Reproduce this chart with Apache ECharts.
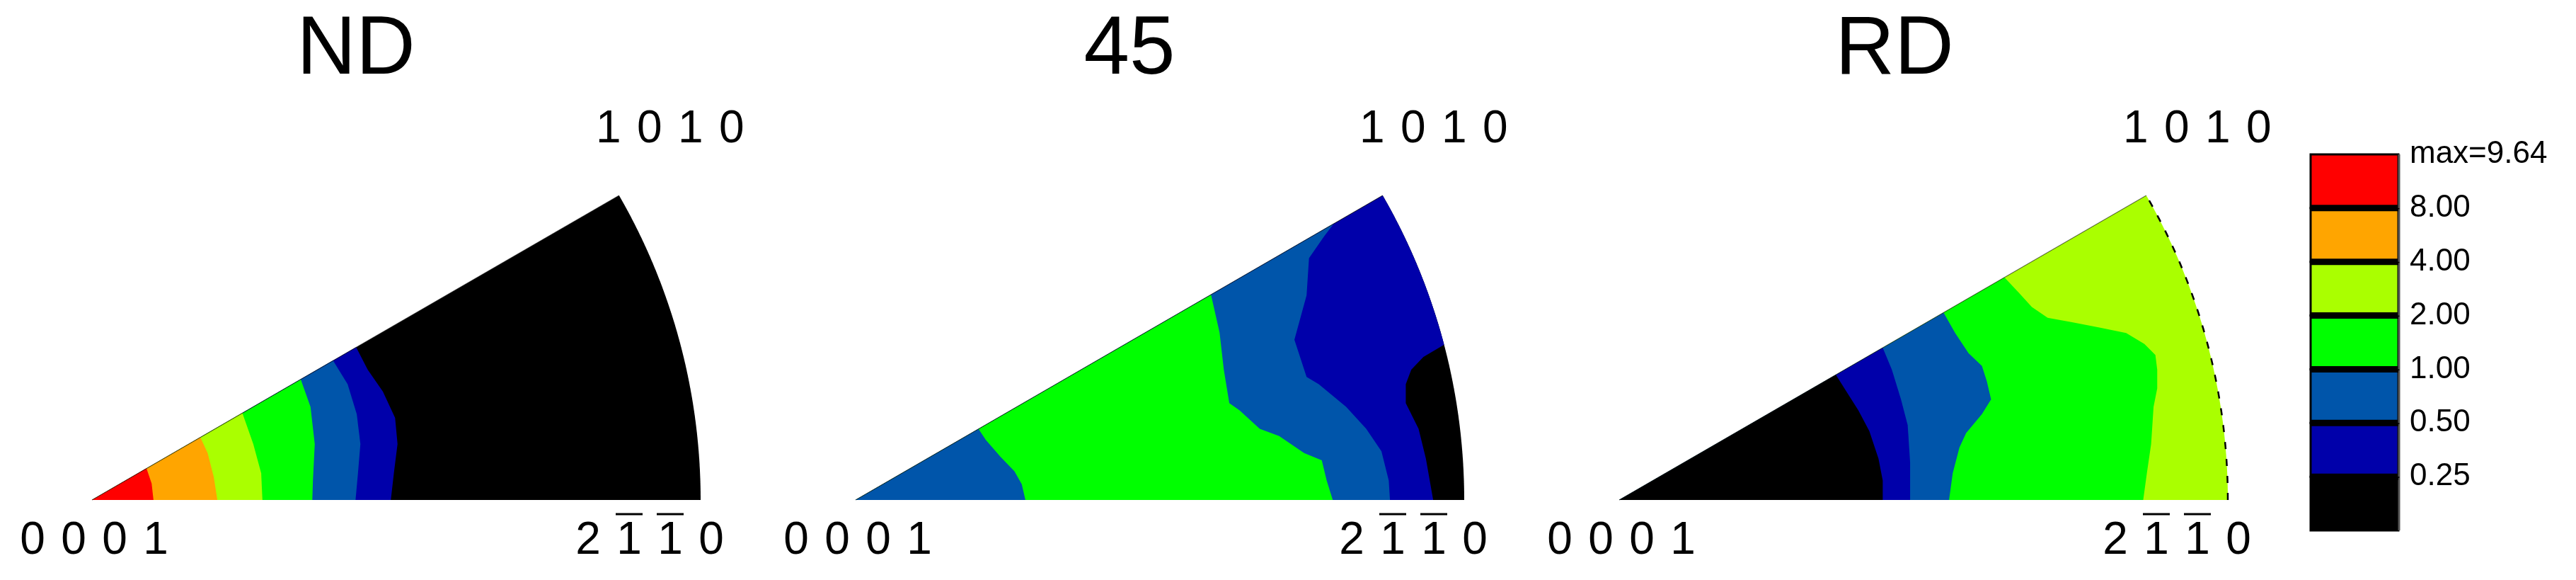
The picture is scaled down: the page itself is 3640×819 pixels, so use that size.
<!DOCTYPE html>
<html>
<head>
<meta charset="utf-8">
<script src="https://cdn.jsdelivr.net/npm/echarts@6/dist/echarts.min.js"></script>
<style>
html, body { margin: 0; padding: 0; background: #fff; }
#chart { width: 3640px; height: 819px; }
</style>
</head>
<body>
<div id="chart"></div>
<script>
// inverse pole figures (ND / 45 / RD), contour levels in mrd
var panelTitles = ['ND', '45', 'RD'];
var levelLabels = ['', '0.25', '0.50', '1.00', '2.00', '4.00', '8.00', 'max=9.64'];
var levelColors = ['#000000', '#0000aa', '#0055aa', '#00ff00', '#aaff00', '#ffa500', '#ff0000'];
var poleLabels = ['0001', '2110', '1010'];
var poleBars = [[0, 0, 0, 0], [0, 1, 1, 0], [0, 0, 0, 0]];
var poleDirs = [[0, 0], [1, 0], [0.866, 0.5]];

// contour layers: [level, boundary from the 2-1-10 edge to the 10-10 edge or the arc]
// x = r cos(a), y = r sin(a) in the unit sector
var ndBase = 0;
var ndLayers = [
  [1, [[0.491, 0], [0.496, 0.044], [0.502, 0.092], [0.498, 0.135], [0.478, 0.178], [0.453, 0.214], [0.434, 0.251]]],
  [2, [[0.433, 0], [0.437, 0.044], [0.441, 0.092], [0.435, 0.141], [0.420, 0.190], [0.396, 0.229]]],
  [3, [[0.362, 0], [0.363, 0.032], [0.366, 0.092], [0.359, 0.153], [0.343, 0.198]]],
  [4, [[0.280, 0], [0.278, 0.044], [0.265, 0.092], [0.247, 0.143]]],
  [5, [[0.206, 0], [0.200, 0.038], [0.190, 0.077], [0.178, 0.103]]],
  [6, [[0.101, 0], [0.098, 0.027], [0.0895, 0.052]]]
];

var d45Base = 0;
var d45Layers = [
  [1, [[0.949, 0], [0.937, 0.068], [0.925, 0.117], [0.904, 0.159], [0.904, 0.190], [0.913, 0.214], [0.933, 0.235], [0.967, 0.255]]],
  [2, [[0.878, 0], [0.876, 0.032], [0.864, 0.080], [0.839, 0.117], [0.806, 0.153], [0.761, 0.190], [0.741, 0.202], [0.721, 0.263], [0.741, 0.336], [0.745, 0.397], [0.770, 0.433], [0.786, 0.454]]],
  [3, [[0.784, 0], [0.774, 0.032], [0.766, 0.065], [0.737, 0.077], [0.696, 0.105], [0.664, 0.117], [0.631, 0.147], [0.614, 0.159], [0.605, 0.214], [0.598, 0.275], [0.584, 0.337]]],
  [2, [[0.279, 0], [0.273, 0.026], [0.261, 0.047], [0.238, 0.071], [0.214, 0.0985], [0.202, 0.1166]]]
];

var rdBase = 4;
var rdLayers = [
  [3, [[0.861, 0], [0.867, 0.044], [0.874, 0.092], [0.878, 0.153], [0.884, 0.183], [0.884, 0.214], [0.881, 0.238], [0.863, 0.256], [0.833, 0.274], [0.789, 0.283], [0.744, 0.292], [0.704, 0.299], [0.678, 0.317], [0.656, 0.341], [0.633, 0.3655]]],
  [2, [[0.542, 0], [0.548, 0.044], [0.559, 0.086], [0.570, 0.110], [0.596, 0.141], [0.611, 0.165], [0.604, 0.195], [0.596, 0.220], [0.574, 0.241], [0.552, 0.274], [0.533, 0.3077]]],
  [1, [[0.478, 0], [0.478, 0.062], [0.474, 0.123], [0.463, 0.165], [0.448, 0.214], [0.433, 0.250]]],
  [0, [[0.433, 0], [0.433, 0.032], [0.426, 0.068], [0.411, 0.113], [0.393, 0.147], [0.374, 0.177], [0.356, 0.2055]]]
];

var panelBases = [ndBase, d45Base, rdBase];
var panelLayers = [ndLayers, d45Layers, rdLayers];

// layout
var FONT = '"Liberation Sans", Arial, sans-serif';
var panelLeft = [130, 1209, 2288];
var titleX = [503, 1596, 2677];
var poleOffsets = [[3, 58], [-72, 58], [72, -93]];
var arcDashed = [false, false, true];
var HALF = Math.PI / 6;

function arcPoints(api, a0, a1) {
  var pts = [];
  var n = Math.max(2, Math.ceil((a1 - a0) / 0.004));
  for (var k = 0; k <= n; k++) {
    var a = a0 + (a1 - a0) * k / n;
    pts.push(api.coord([Math.cos(a), Math.sin(a)]));
  }
  return pts;
}

function layerPoints(api, curve) {
  var pts = [api.coord([0, 0])];
  curve.forEach(function (p) { pts.push(api.coord(p)); });
  var last = curve[curve.length - 1];
  if (Math.hypot(last[0], last[1]) > 0.98) {
    pts = pts.concat(arcPoints(api, Math.atan2(last[1], last[0]), HALF));
  }
  return pts;
}

function contourItem(p) {
  return function (params, api) {
    var i = params.dataIndex;
    var pts, color;
    if (i === 0) {
      pts = [api.coord([0, 0])].concat(arcPoints(api, 0, HALF));
      color = levelColors[panelBases[p]];
    } else {
      var L = panelLayers[p][i - 1];
      pts = layerPoints(api, L[1]);
      color = levelColors[L[0]];
    }
    return { type: 'polygon', shape: { points: pts }, style: { fill: color } };
  };
}

function edgeItem(p) {
  return function (params, api) {
    var o = api.coord([0, 0]);
    var v = api.coord([Math.cos(HALF), Math.sin(HALF)]);
    var children = [{
      type: 'line',
      shape: { x1: o[0], y1: o[1], x2: v[0], y2: v[1] },
      style: { stroke: 'rgba(0,0,0,0.55)', lineWidth: 1.2 }
    }];
    if (arcDashed[p]) {
      children.push({
        type: 'polyline',
        shape: { points: arcPoints(api, 0, HALF) },
        style: { stroke: '#000', fill: null, lineWidth: 2.5, lineDash: [10, 14] }
      });
    }
    return { type: 'group', children: children };
  };
}

function poleItem(params, api) {
  var pt = api.coord([api.value(0), api.value(1)]);
  var k = api.value(2);
  var cx = pt[0] + poleOffsets[k][0];
  var cy = pt[1] + poleOffsets[k][1];
  var s = poleLabels[k];
  var children = [];
  for (var j = 0; j < s.length; j++) {
    var x = cx + (j - 1.5) * 58;
    children.push({
      type: 'text', x: x, y: cy,
      style: { text: s[j], font: '64px ' + FONT, fill: '#000', align: 'center', verticalAlign: 'middle' }
    });
    if (poleBars[k][j]) {
      children.push({
        type: 'line',
        shape: { x1: x - 19, y1: cy - 38, x2: x + 19, y2: cy - 38 },
        style: { stroke: '#000', lineWidth: 3 }
      });
    }
  }
  return { type: 'group', children: children };
}

function barItem(params, api) {
  var i = params.dataIndex;
  var p0 = api.coord([0, i]);
  var p1 = api.coord([1, i + 1]);
  var children = [{
    type: 'rect',
    shape: { x: p0[0], y: p1[1], width: p1[0] - p0[0], height: p0[1] - p1[1] },
    style: { fill: levelColors[i], stroke: '#000', lineWidth: 3 }
  }];
  if (i > 0) {
    children.push({
      type: 'line',
      shape: { x1: p0[0], y1: p0[1], x2: p1[0], y2: p0[1] },
      style: { stroke: '#000', lineWidth: 9 }
    });
  }
  // grey shadow on the right side of the key, as in the original export
  children.push({
    type: 'line',
    shape: { x1: p1[0] + 1, y1: p1[1], x2: p1[0] + 1, y2: p0[1] },
    style: { stroke: '#555', lineWidth: 3 }
  });
  return { type: 'group', children: children };
}

var grids = [], xAxes = [], yAxes = [], series = [];
panelTitles.forEach(function (t, p) {
  grids.push({ left: panelLeft[p], top: 276, width: 860, height: 430 });
  xAxes.push({ type: 'value', gridIndex: p, min: 0, max: 1, show: false });
  yAxes.push({ type: 'value', gridIndex: p, min: 0, max: 0.5, show: false });
  var idx = [0];
  panelLayers[p].forEach(function (l, i) { idx.push(i + 1); });
  series.push({
    type: 'custom', name: t + ' contours', xAxisIndex: p, yAxisIndex: p,
    renderItem: contourItem(p), data: idx.map(function (i) { return [i]; })
  });
  series.push({
    type: 'custom', name: t + ' edge', xAxisIndex: p, yAxisIndex: p,
    renderItem: edgeItem(p), data: [[0]]
  });
  series.push({
    type: 'custom', name: t + ' poles', xAxisIndex: p, yAxisIndex: p,
    renderItem: poleItem,
    data: poleDirs.map(function (d, k) { return [d[0], d[1], k]; })
  });
});

// colour key
grids.push({ left: 3265, top: 218, width: 124, height: 531 });
xAxes.push({ type: 'value', gridIndex: 3, min: 0, max: 1, show: false });
yAxes.push({
  type: 'value', gridIndex: 3, min: 0, max: 7, interval: 1, position: 'right',
  axisLine: { show: false }, axisTick: { show: false }, splitLine: { show: false },
  axisLabel: {
    margin: 16, color: '#000', fontSize: 44, fontFamily: FONT,
    formatter: function (v) { return levelLabels[v]; }
  }
});
series.push({
  type: 'custom', name: 'key', xAxisIndex: 3, yAxisIndex: 3,
  renderItem: barItem, data: levelColors.map(function (c, i) { return [i]; })
});

var chart = echarts.init(document.getElementById('chart'), null, { renderer: 'canvas' });
chart.setOption({
  animation: false,
  backgroundColor: '#fff',
  graphic: panelTitles.map(function (t, p) {
    return {
      type: 'text', x: titleX[p], y: 72,
      style: { text: t, font: '116px ' + FONT, fill: '#000', align: 'center', verticalAlign: 'middle', textAlign: 'center', textVerticalAlign: 'middle' }
    };
  }),
  grid: grids,
  xAxis: xAxes,
  yAxis: yAxes,
  series: series
});
</script>
</body>
</html>
